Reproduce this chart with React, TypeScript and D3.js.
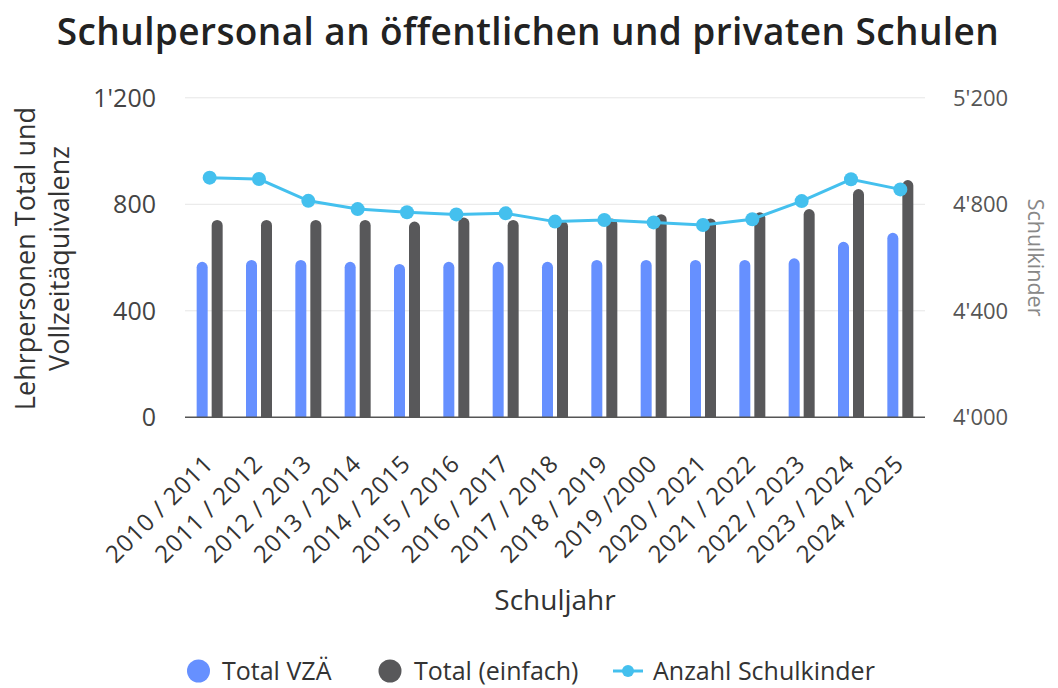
import React from "react";
import * as d3 from "d3";

const categories = [
  "2010 / 2011", "2011 / 2012", "2012 / 2013", "2013 / 2014", "2014 / 2015",
  "2015 / 2016", "2016 / 2017", "2017 / 2018", "2018 / 2019", "2019 /2000",
  "2020 / 2021", "2021 / 2022", "2022 / 2023", "2023 / 2024", "2024 / 2025",
];
const totalVZA = [584, 591, 591, 584, 576, 584, 584, 584, 591, 591, 591, 591, 597, 659, 693];
const totalEinfach = [741, 741, 741, 741, 735, 750, 741, 738, 747, 763, 747, 770, 782, 857, 891];
const schulkinder = [4900, 4895, 4813, 4782, 4770, 4762, 4766, 4735, 4741, 4732, 4722, 4744, 4812, 4894, 4856];
const leftTicks = [0, 400, 800, 1200];
const rightTicks = [4000, 4400, 4800, 5200];

const W = 1058, H = 688;
const M = { left: 185, right: 925, top: 97.8, bottom: 417.3 };
const BLUE = "#6690ff";
const GRAY = "#58585a";
const CYAN = "#44c0ee";
const FONT = "'Open Sans', 'Noto Sans', sans-serif";

const fmt = (v: number) => d3.format(",")(v).replace(/,/g, "'");

export default function App() {
  const x = d3.scaleBand<string>().domain(categories).range([M.left, M.right]).padding(0);
  const yL = d3.scaleLinear().domain([0, 1200]).range([M.bottom, M.top]);
  const yR = d3.scaleLinear().domain([4000, 5200]).range([M.bottom, M.top]);
  const cx = (c: string) => (x(c) as number) + x.bandwidth() / 2;
  const barW = 11;
  const off = 7.5;
  const line = d3.line<number>().x((_, i) => cx(categories[i])).y((d) => yR(d));

  const barPath = (xc: number, top: number, bottom: number) => {
    const r = barW / 2;
    const l = xc - r, rr = xc + r;
    return `M${l},${bottom} L${l},${top + r} A${r},${r} 0 0 1 ${rr},${top + r} L${rr},${bottom} Z`;
  };

  return (
    <svg width={W} height={H} style={{ position: "absolute", left: 0, top: 0, background: "#fff" }}>
      <text x={528} y={45} textAnchor="middle" fontFamily={FONT} fontSize={37} fontWeight={600} letterSpacing={0.4} fill="#222">
        Schulpersonal an öffentlichen und privaten Schulen
      </text>
      {leftTicks.map((t) => (
        <g key={t}>
          {t > 0 && <line x1={M.left} x2={M.right} y1={yL(t)} y2={yL(t)} stroke="#e6e6e6" strokeWidth={1} />}
          <text x={156} y={yL(t) + 9} textAnchor="end" fontFamily={FONT} fontSize={25} fill="#444">{fmt(t)}</text>
        </g>
      ))}
      {rightTicks.map((t) => (
        <text key={t} x={953} y={yR(t) + 8} textAnchor="start" fontFamily={FONT} fontSize={22} fill="#555">{fmt(t)}</text>
      ))}
      {categories.map((c, i) => (
        <g key={c}>
          <path d={barPath(cx(c) - off, yL(totalVZA[i]), yL(0))} fill={BLUE} />
          <path d={barPath(cx(c) + off, yL(totalEinfach[i]), yL(0))} fill={GRAY} />
        </g>
      ))}
      <line x1={M.left} x2={M.right} y1={M.bottom} y2={M.bottom} stroke="#555" strokeWidth={1.5} />
      <path d={line(schulkinder) || ""} fill="none" stroke={CYAN} strokeWidth={3} />
      {schulkinder.map((v, i) => (
        <circle key={i} cx={cx(categories[i])} cy={yR(v)} r={7} fill={CYAN} />
      ))}
      {categories.map((c) => (
        <text key={c} transform={`translate(${cx(c) + 5},${M.bottom + 48}) rotate(-45)`} textAnchor="end"
          fontFamily={FONT} fontSize={24} letterSpacing={0.8} fill="#333">{c}</text>
      ))}
      <g transform={`translate(0,${(M.top + M.bottom) / 2 + 1}) rotate(-90)`}>
        <text x={0} y={35} textAnchor="middle" fontFamily={FONT} fontSize={27} fill="#333">Lehrpersonen Total und</text>
        <text x={0} y={69} textAnchor="middle" fontFamily={FONT} fontSize={27} fill="#333">Vollzeitäquivalenz</text>
      </g>
      <text transform={`translate(1028,${(M.top + M.bottom) / 2}) rotate(90)`} textAnchor="middle"
        fontFamily={FONT} fontSize={21.5} fill="#888">Schulkinder</text>
      <text x={555} y={610} textAnchor="middle" fontFamily={FONT} fontSize={28} fill="#333">Schuljahr</text>
      <g fontFamily={FONT} fontSize={25} fill="#333">
        <circle cx={198.5} cy={671} r={11.5} fill={BLUE} />
        <text x={222} y={680}>Total VZÄ</text>
        <circle cx={390} cy={671} r={11.5} fill={GRAY} />
        <text x={414} y={680}>Total (einfach)</text>
        <line x1={613} x2={643} y1={671} y2={671} stroke={CYAN} strokeWidth={3} />
        <circle cx={628} cy={671} r={6} fill={CYAN} />
        <text x={653} y={680}>Anzahl Schulkinder</text>
      </g>
    </svg>
  );
}
